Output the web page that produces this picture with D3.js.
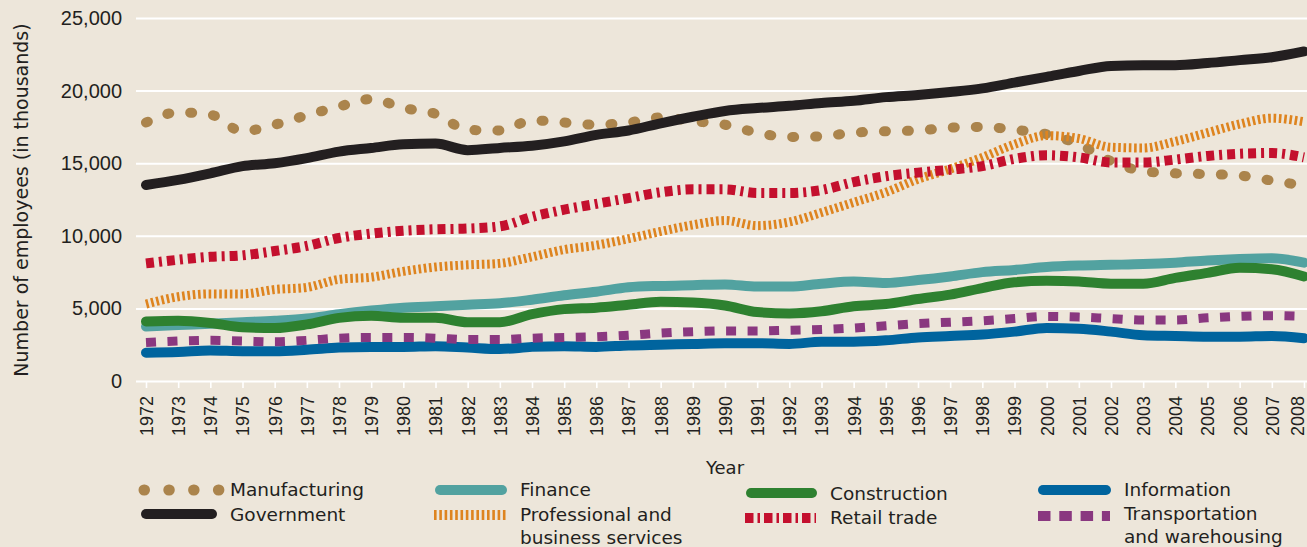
<!DOCTYPE html>
<html><head><meta charset="utf-8">
<script src="https://cdn.jsdelivr.net/npm/d3@7"></script>
<style>
html,body{margin:0;padding:0;background:#ede6da;}
svg{display:block;font-family:"DejaVu Sans",sans-serif;}
</style></head><body>
<svg id="chart" width="1307" height="547"></svg>
<script>
const years = [1972,1973,1974,1975,1976,1977,1978,1979,1980,1981,1982,1983,1984,1985,1986,1987,1988,1989,1990,
  1991,1992,1993,1994,1995,1996,1997,1998,1999,2000,2001,2002,2003,2004,2005,2006,2007,2008];
const yTicks = [0,5000,10000,15000,20000,25000];

const manufacturing = [17800,18500,18350,17200,17650,18300,18900,19420,18800,18400,17300,17250,17950,17800,17650,17800,18150,17900,17650,
  17100,16800,16850,17100,17200,17250,17450,17500,17300,17000,16300,15150,14450,14300,14250,14150,13800,13450];
const government = [13500,13850,14300,14800,15000,15350,15800,16050,16300,16350,15900,16050,16200,16500,16950,17250,17750,18200,18600,
  18800,18950,19150,19300,19550,19700,19900,20150,20550,20950,21350,21700,21750,21750,21900,22100,22300,22700];
const finance = [3750,3850,3950,4050,4150,4300,4600,4850,5050,5150,5250,5350,5600,5900,6150,6450,6550,6600,6650,
  6500,6500,6700,6850,6750,6950,7200,7500,7650,7850,7950,8000,8050,8150,8300,8400,8450,8150];
const professional = [5300,5800,6000,6000,6300,6450,7000,7150,7550,7850,8000,8100,8550,9050,9350,9800,10300,10750,11050,
  10700,10950,11600,12300,13000,13900,14600,15400,16300,16900,16700,16100,16050,16500,17100,17700,18100,17850];
const construction = [4100,4150,4000,3700,3650,3900,4350,4500,4350,4350,4050,4050,4600,4950,5050,5250,5450,5400,5200,
  4750,4650,4800,5150,5300,5650,5950,6400,6800,6900,6850,6700,6700,7100,7450,7800,7700,7200];
const retail = [8100,8350,8550,8650,8950,9300,9850,10150,10350,10450,10500,10650,11300,11800,12200,12600,13000,13200,13200,
  12950,12950,13150,13700,14100,14350,14550,14800,15300,15550,15400,15050,15050,15250,15500,15650,15700,15400];
const information = [1950,2000,2100,2050,2050,2150,2300,2350,2350,2400,2300,2200,2350,2400,2350,2450,2500,2550,2600,
  2600,2550,2700,2700,2800,3000,3100,3200,3400,3650,3600,3400,3150,3100,3050,3050,3100,2950];
const transportation = [2650,2750,2800,2750,2700,2800,2950,3000,3000,2950,2850,2850,2950,3000,3050,3150,3300,3400,3450,
  3450,3500,3550,3650,3800,3950,4050,4150,4300,4450,4400,4300,4200,4200,4350,4450,4500,4450];

const styles = {
  "Finance": {values: finance, color:"#52a2a0", width:10, dash:null, cap:"round"},
  "Construction": {values: construction, color:"#2e8130", width:10, dash:null, cap:"round"},
  "Information": {values: information, color:"#00649e", width:10, dash:null, cap:"round"},
  "Transportation and warehousing": {values: transportation, color:"#8a3880", width:9, dash:"10,11.5", cap:"butt"},
  "Manufacturing": {values: manufacturing, color:"#ab844c", width:10, dash:"2,21", cap:"round"},
  "Professional and business services": {values: professional, color:"#de841f", width:9, dash:"2.6,2.7", cap:"butt"},
  "Retail trade": {values: retail, color:"#c4102e", width:10, dash:"8,5,3,5", cap:"butt"},
  "Government": {values: government, color:"#231f20", width:10, dash:null, cap:"round"}
};
const drawOrder = ["Finance","Construction","Information","Transportation and warehousing","Manufacturing","Professional and business services","Retail trade","Government"];

const svg = d3.select("#chart");
svg.append("rect").attr("width",1307).attr("height",547).attr("fill","#ede6da");

const x = d3.scaleLinear().domain([1972,2008]).range([146,1304]);
const y = d3.scaleLinear().domain([0,25000]).range([381,18]);
const textColor = "#231f20";

// y axis with gridlines
const yAxis = svg.append("g").attr("transform","translate(136,0)")
  .call(d3.axisLeft(y).tickValues(yTicks).tickFormat(d3.format(",")).tickSize(-(1307-136)).tickPadding(14));
yAxis.select(".domain").remove();
yAxis.selectAll(".tick line").attr("stroke","#ffffff").attr("stroke-width",2);
yAxis.selectAll(".tick text").attr("fill",textColor).attr("font-size",20);

// x axis
const xAxis = svg.append("g").attr("transform","translate(0,381)")
  .call(d3.axisBottom(x).tickValues(years).tickFormat(d=>String(d)).tickSize(7));
xAxis.select(".domain").remove();
xAxis.selectAll(".tick line").attr("stroke","#ffffff").attr("stroke-width",1.6);
xAxis.selectAll(".tick text").attr("fill",textColor).attr("font-size",18)
  .attr("transform","rotate(-90)").attr("text-anchor","end")
  .attr("x",-15).attr("y",d => d === 2008 ? -7 : 0).attr("dy","0.36em");

svg.append("text").attr("x",725).attr("y",474).attr("text-anchor","middle")
  .attr("fill",textColor).attr("font-size",18).text("Year");
svg.append("text").attr("transform","translate(28,200) rotate(-90)").attr("text-anchor","middle")
  .attr("fill",textColor).attr("font-size",19).text("Number of employees (in thousands)");

const line = d3.line().x((d,i)=>x(years[i])).y(d=>y(d)).curve(d3.curveMonotoneX);

drawOrder.forEach(name=>{
  const s = styles[name];
  const p = svg.append("path").datum(s.values).attr("d",line)
    .attr("fill","none").attr("stroke",s.color).attr("stroke-width",s.width)
    .attr("stroke-linecap",s.cap).attr("stroke-linejoin","round");
  if (s.dash) p.attr("stroke-dasharray",s.dash);
});

// legend
const legendItems = [
  {name:"Manufacturing", lines:["Manufacturing"], x1:144, x2:222, sy:490, tx:230, ty:490, dash:"0.5,24.3", w:11},
  {name:"Government", lines:["Government"], x1:146, x2:212, sy:514, tx:230, ty:515},
  {name:"Finance", lines:["Finance"], x1:440, x2:502, sy:490, tx:520, ty:490},
  {name:"Professional and business services", lines:["Professional and","business services"], x1:434, x2:506, sy:515, tx:520, ty:515, w:10},
  {name:"Construction", lines:["Construction"], x1:751, x2:812, sy:493, tx:830, ty:494},
  {name:"Retail trade", lines:["Retail trade"], x1:745, x2:816, sy:518, tx:830, ty:518, dash:"8.5,4,2.5,4"},
  {name:"Information", lines:["Information"], x1:1043, x2:1106, sy:490, tx:1124, ty:490},
  {name:"Transportation and warehousing", lines:["Transportation","and warehousing"], x1:1038, x2:1110, sy:516, tx:1124, ty:514, dash:"12.5,8.8", w:10}
];
legendItems.forEach(it=>{
  const s = styles[it.name];
  const l = svg.append("line").attr("x1",it.x1).attr("x2",it.x2).attr("y1",it.sy).attr("y2",it.sy)
    .attr("stroke",s.color).attr("stroke-width",it.w||s.width).attr("stroke-linecap",s.cap);
  const dash = it.dash || s.dash;
  if (dash) l.attr("stroke-dasharray",dash);
  const t = svg.append("text").attr("x",it.tx).attr("y",it.ty).attr("fill",textColor).attr("font-size",18.5);
  it.lines.forEach((ln,i)=>{
    t.append("tspan").attr("x",it.tx).attr("dy", i===0 ? "0.35em" : "1.22em").text(ln);
  });
});
</script>
</body></html>
